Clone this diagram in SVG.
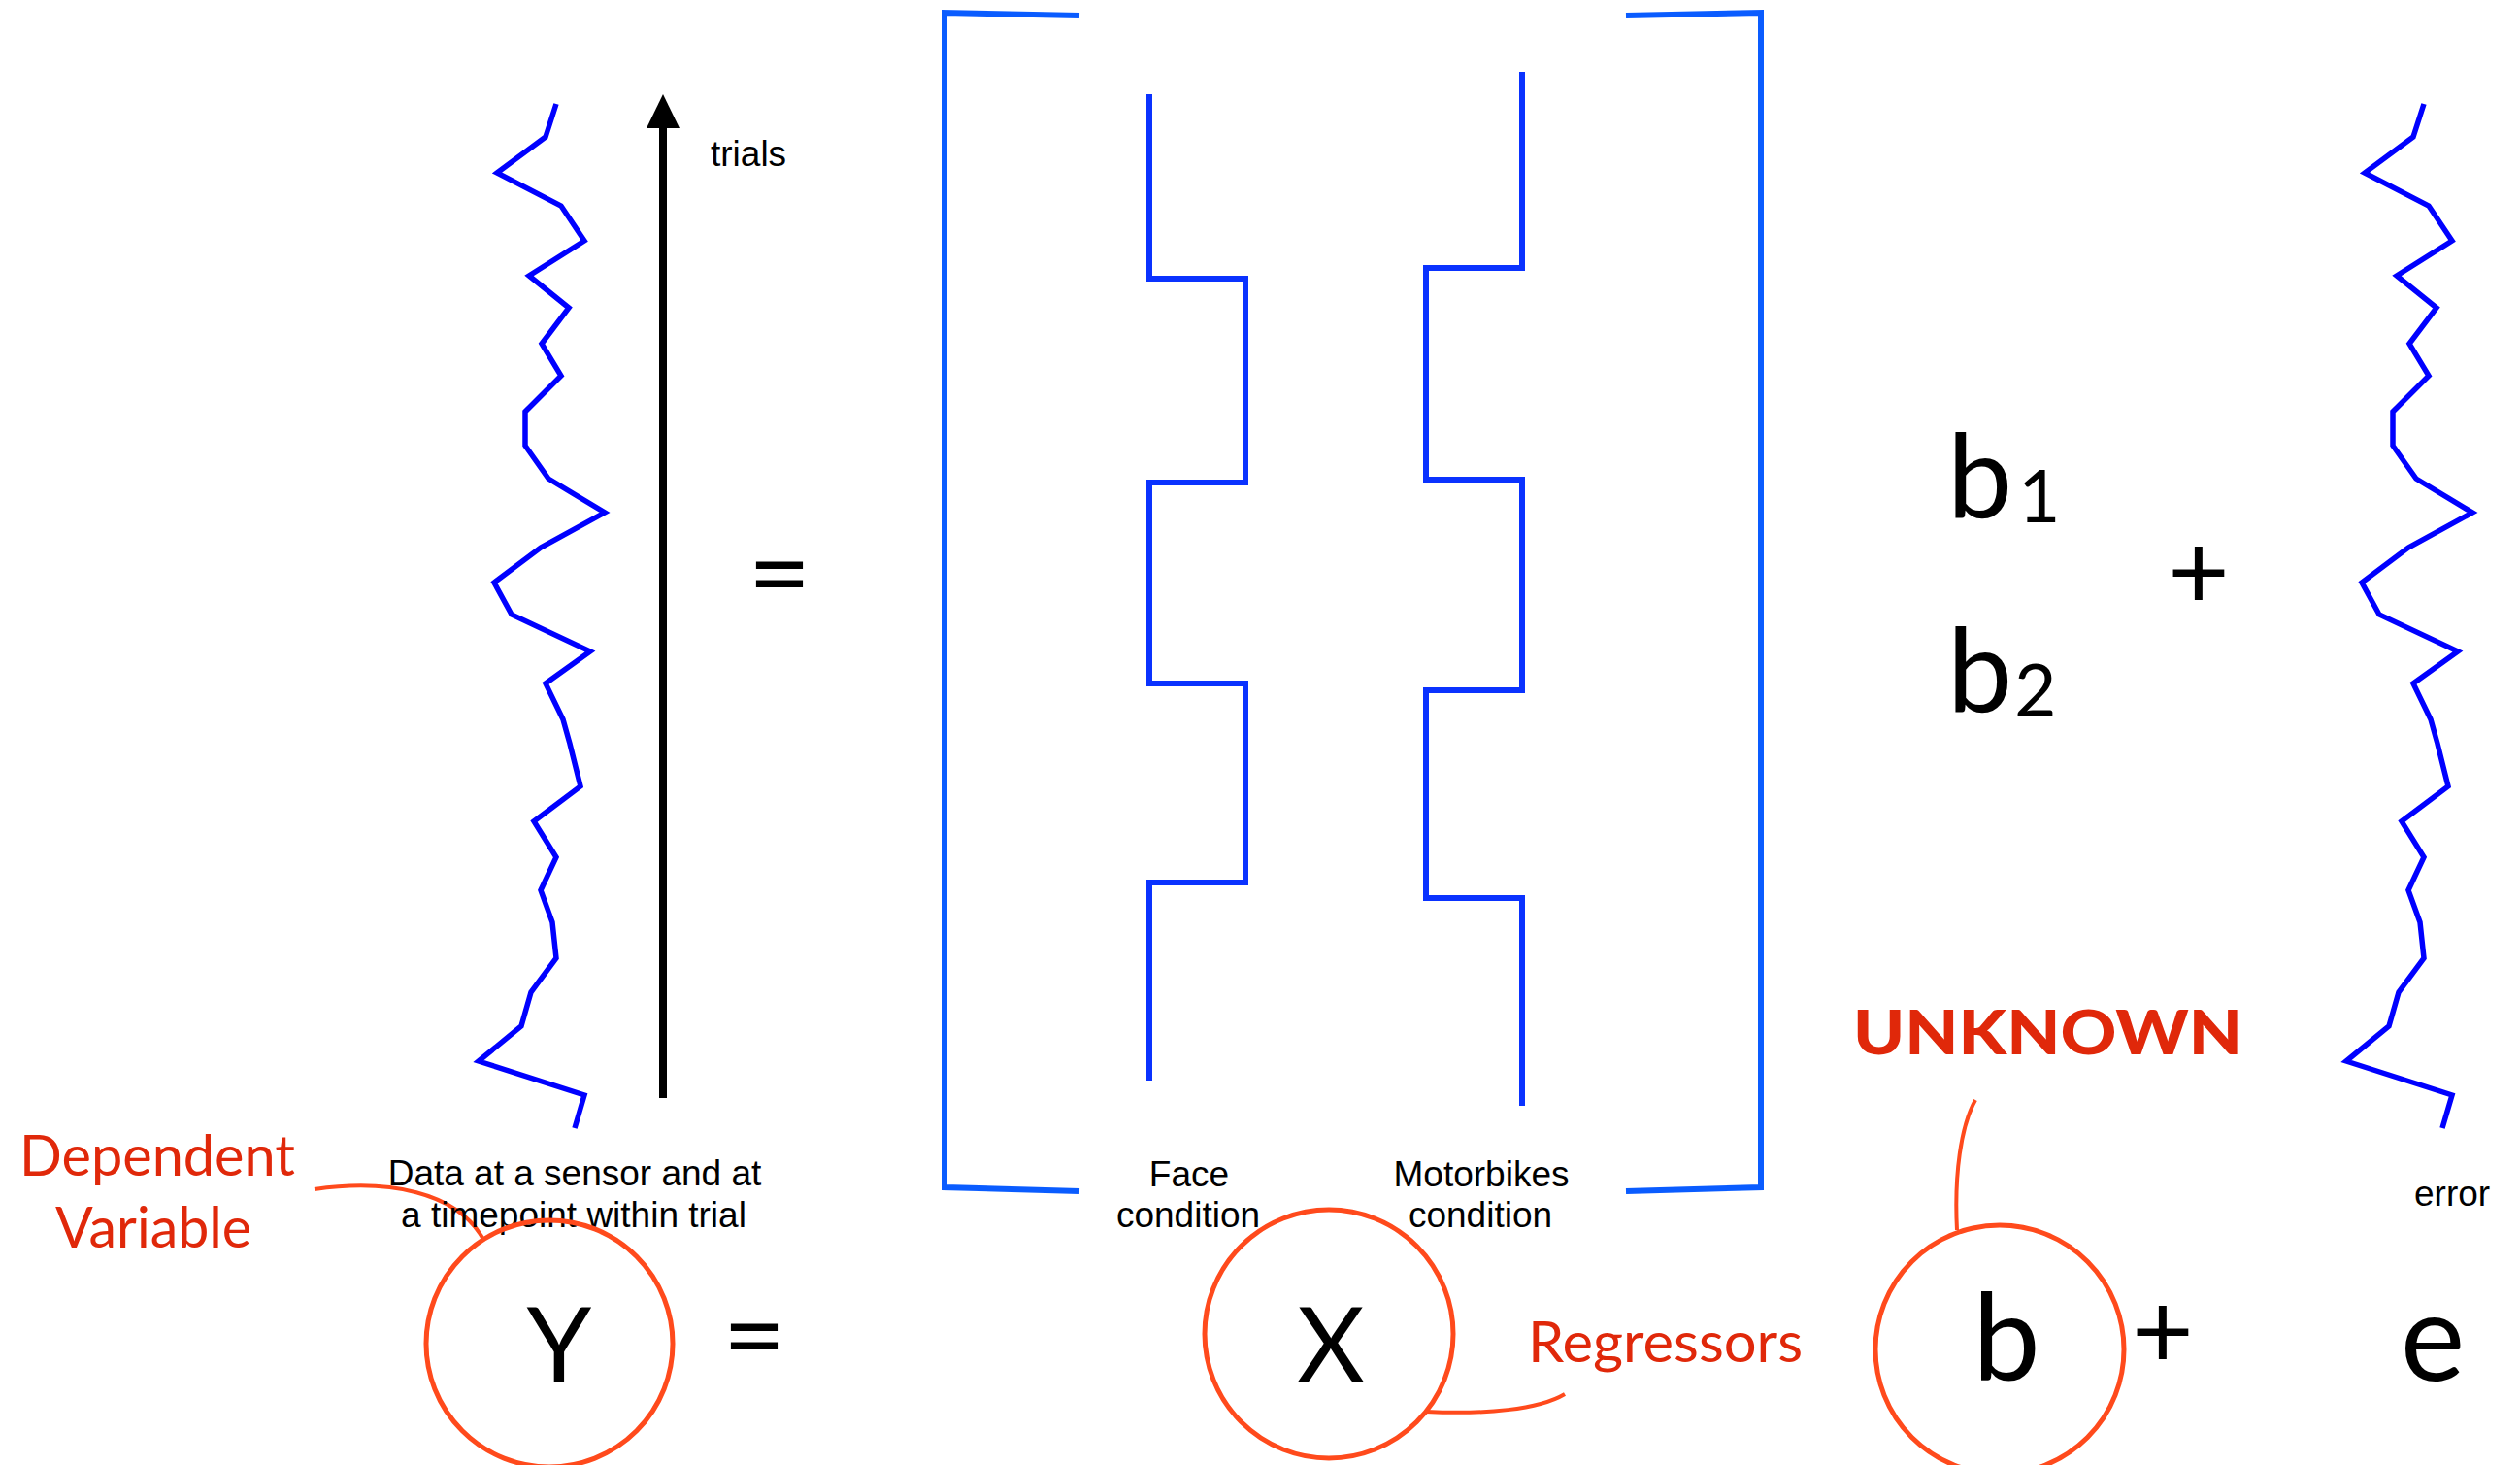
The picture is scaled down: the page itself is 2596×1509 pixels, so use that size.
<svg xmlns="http://www.w3.org/2000/svg" xmlns:xlink="http://www.w3.org/1999/xlink" width="2596" height="1509" viewBox="0 0 2596 1509">
<style>
.wave{fill:none;stroke:#0000ff;stroke-width:5.5;stroke-linejoin:miter}
.step{fill:none;stroke:#0a32ff;stroke-width:6}
.bracket{fill:none;stroke:#0a5cff;stroke-width:6}
.ring{fill:none;stroke:#ff4a1c;stroke-width:5}
.lead{fill:none;stroke:#ff4a1c;stroke-width:4}
.lbl{font-family:"Liberation Sans",Arial,sans-serif;font-size:37px;fill:#000}
.big{font-family:Lato,"Open Sans",sans-serif;fill:#000}
.red{font-family:Lato,"Open Sans",sans-serif;fill:#e0280a}
</style>
<defs>
<polyline id="zig" points="573,107 562,141 512,178 578,212 602,248 545,284 586,317 558,354 578,387 541,424 541,459 565,493 623,528 557,564 509,600 527,633 608,671 562,704 580,741 587,766 598,810 550,846 573,883 557,917 569,950 573,987 547,1022 537,1057 493,1093 602,1128 592,1162"/>
</defs>
<rect width="2596" height="1509" fill="#fff"/>

<g id="connectors">
<line x1="683" y1="1131" x2="683" y2="128" stroke="#000" stroke-width="8"/>
<path d="M666,132 L683,97 L700,132 z" fill="#000"/>
<path class="lead" d="M324,1225 C400,1214 470,1228 497,1275"/>
<path class="lead" d="M1469,1454 C1530,1457 1585,1452 1612,1436"/>
<path class="lead" d="M2035,1133 C2020,1160 2013,1210 2016,1267"/>
</g>

<g id="data-signal">
<use xlink:href="#zig" class="wave"/>
</g>
<g id="error-signal">
<use xlink:href="#zig" class="wave" transform="translate(1924,0)"/>
</g>

<g id="trials-label"><text class="lbl" x="732" y="171">trials</text></g>

<g id="equals-top"><text class="big" x="803" y="630" font-size="112" text-anchor="middle">=</text></g>

<g id="design-matrix">
<polyline class="bracket" points="1112,16 973,13 973,1223 1112,1227"/>
<polyline class="bracket" points="1675,16 1814,13 1814,1223 1675,1227"/>
</g>

<g id="face-regressor">
<polyline class="step" points="1184,97 1184,287 1283,287 1283,497 1184,497 1184,704 1283,704 1283,909 1184,909 1184,1113"/>
<text class="lbl" x="1225" y="1222" text-anchor="middle">Face</text>
<text class="lbl" x="1224" y="1264" text-anchor="middle">condition</text>
</g>

<g id="motorbike-regressor">
<polyline class="step" points="1568,74 1568,276 1469,276 1469,494 1568,494 1568,711 1469,711 1469,925 1568,925 1568,1139"/>
<text class="lbl" x="1526" y="1222" text-anchor="middle">Motorbikes</text>
<text class="lbl" x="1525" y="1264" text-anchor="middle">condition</text>
</g>

<g id="betas">
<text class="big" x="2006" y="533" font-size="120">b</text>
<text class="big" x="2079" y="538" font-size="75">1</text>
<text class="big" x="2006" y="733" font-size="120">b</text>
<text class="big" x="2075" y="738" font-size="75">2</text>
</g>

<g id="plus-top"><text class="big" x="2265" y="628" font-size="110" text-anchor="middle">+</text></g>

<g id="data-caption">
<text class="lbl" x="592" y="1221" text-anchor="middle">Data at a sensor and at</text>
<text class="lbl" x="591" y="1264" text-anchor="middle">a timepoint within trial</text>
</g>

<g id="error-caption"><text class="lbl" x="2487" y="1242">error</text></g>

<g id="dependent-variable">
<text class="red" x="162" y="1211" font-size="58" text-anchor="middle" textLength="284" lengthAdjust="spacingAndGlyphs">Dependent</text>
<text class="red" x="158" y="1285" font-size="58" text-anchor="middle" textLength="202" lengthAdjust="spacingAndGlyphs">Variable</text>
</g>

<g id="Y-node">
<circle class="ring" cx="566" cy="1384" r="127"/>
<text class="big" x="576" y="1423" font-size="107" text-anchor="middle">Y</text>
</g>

<g id="equals-bottom"><text class="big" x="777" y="1415" font-size="112" text-anchor="middle">=</text></g>

<g id="X-node">
<circle class="ring" cx="1369" cy="1374" r="128"/>
<text class="big" x="1371" y="1423" font-size="107" text-anchor="middle">X</text>
</g>

<g id="regressors-label">
<text class="red" x="1574" y="1403" font-size="58" textLength="283" lengthAdjust="spacingAndGlyphs">Regressors</text>
</g>

<g id="unknown-label">
<text class="red" x="1909" y="1086" font-size="62" font-weight="900" textLength="401" lengthAdjust="spacingAndGlyphs">UNKNOWN</text>
</g>

<g id="b-node">
<circle class="ring" cx="2060" cy="1390" r="128"/>
<text class="big" x="2067" y="1421" font-size="124" text-anchor="middle">b</text>
</g>

<g id="plus-bottom"><text class="big" x="2228" y="1410" font-size="110" text-anchor="middle">+</text></g>

<g id="e-node"><text class="big" x="2506" y="1422" font-size="126" text-anchor="middle">e</text></g>
</svg>
